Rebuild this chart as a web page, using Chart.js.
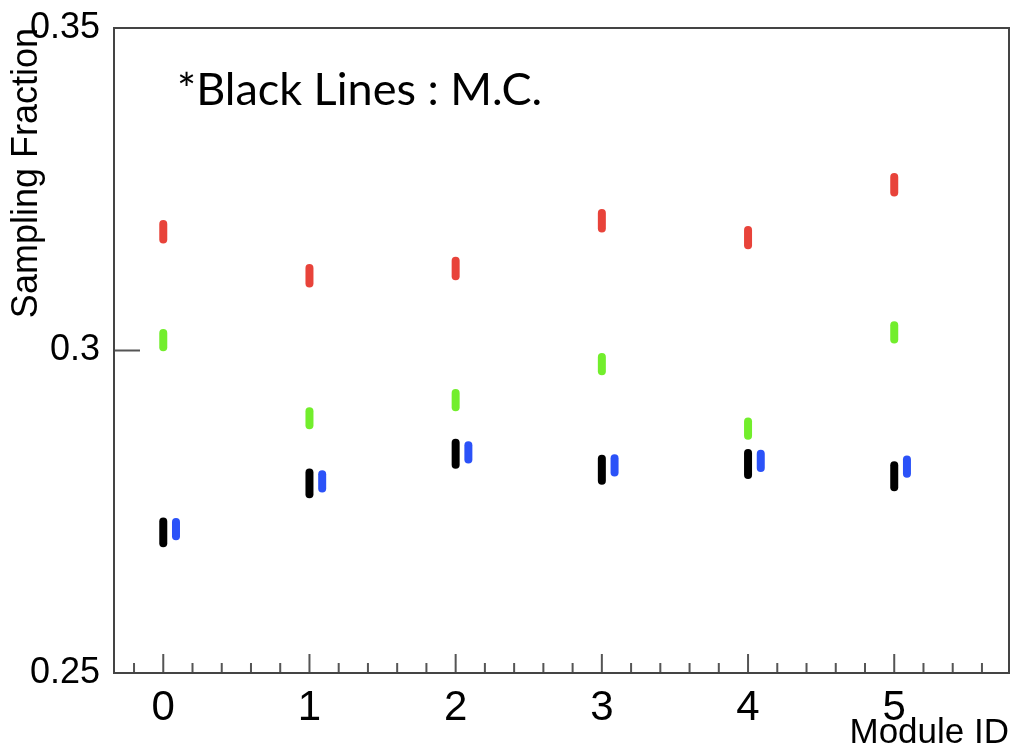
<!DOCTYPE html>
<html>
<head>
<meta charset="utf-8">
<title>Sampling Fraction vs Module ID</title>
<script src="https://cdn.jsdelivr.net/npm/chart.js@4.4.1/dist/chart.umd.min.js"></script>
<style>
  html, body { margin: 0; padding: 0; background: #fff; }
  #wrap { position: relative; width: 1013px; height: 747px; }
</style>
</head>
<body>
<div id="wrap"><canvas id="sfCanvas"></canvas></div>
<script>
// sampling fraction per calorimeter module
const moduleIds = [0, 1, 2, 3, 4, 5]
const redValues = [0.3184, 0.3116, 0.3127, 0.3201, 0.3175, 0.3257]
const greenValues = [0.3016, 0.2895, 0.2923, 0.2979, 0.2879, 0.3028]
const blackValues = [0.2718, 0.2794, 0.2840, 0.2815, 0.2824, 0.2805] // M.C.
const blueValues = [0.2723, 0.2797, 0.2842, 0.2822, 0.2829, 0.2820]

// half-length of the error bars
const redErrors = [0.0012, 0.0012, 0.0012, 0.0012, 0.0012, 0.0012]
const greenErrors = [0.0011, 0.0011, 0.0011, 0.0011, 0.0011, 0.0011]
const blackErrors = [0.0017, 0.0017, 0.0017, 0.0017, 0.0017, 0.0017]
const blueErrors = [0.0011, 0.0011, 0.0011, 0.0011, 0.0011, 0.0011]

const yTicks = [0.25, 0.3, 0.35]
const note = `*Black Lines : M.C.`

const FONT = `'Liberation Sans', Arial, Helvetica, sans-serif`
const BLUE_SHIFT = 0.087 // blue points are drawn slightly right of the module

const series = (values, errors, color, shift = 0) => ({
  data: moduleIds.map((m, i) => ({ x: m + shift, y: values[i] })),
  errors,
  borderColor: color,
  backgroundColor: color,
  pointRadius: 0,
  showLine: false,
})

// vertical error bars, ROOT style
const errorBars = {
  id: `errorBars`,
  afterDatasetsDraw(chart) {
    const { ctx, scales } = chart
    chart.data.datasets.forEach((ds, i) => {
      const meta = chart.getDatasetMeta(i)
      ctx.save()
      ctx.strokeStyle = ds.borderColor
      ctx.lineWidth = 8
      ctx.lineCap = `round`
      meta.data.forEach((pt, j) => {
        const v = ds.data[j].y
        const e = ds.errors[j]
        ctx.beginPath()
        ctx.moveTo(pt.x, scales.y.getPixelForValue(v - e))
        ctx.lineTo(pt.x, scales.y.getPixelForValue(v + e))
        ctx.stroke()
      })
      ctx.restore()
    })
  },
}

// frame box, inward tick marks and the note in the corner
const frame = {
  id: `frame`,
  afterDraw(chart) {
    const { ctx, chartArea: a, scales } = chart
    ctx.save()
    ctx.strokeStyle = `#555`
    ctx.lineWidth = 2
    ctx.beginPath()
    for (let t = -0.2; t < scales.x.max; t += 0.2) {
      const v = Math.round(t * 10) / 10
      if (v < scales.x.min) continue
      const px = scales.x.getPixelForValue(v)
      const len = Number.isInteger(v) ? 19 : 10
      ctx.moveTo(px, a.bottom)
      ctx.lineTo(px, a.bottom - len)
    }
    yTicks.forEach((v) => {
      const py = scales.y.getPixelForValue(v)
      ctx.moveTo(a.left, py)
      ctx.lineTo(a.left + 26, py)
    })
    ctx.stroke()

    ctx.strokeStyle = `#444`
    ctx.strokeRect(a.left, a.top, a.right - a.left, a.bottom - a.top)

    ctx.fillStyle = `#000`
    ctx.font = `45px Lato, 'Open Sans', sans-serif`
    ctx.textAlign = `left`
    ctx.textBaseline = `alphabetic`
    ctx.fillText(note, 177, 105)
    ctx.restore()
  },
}

new Chart(document.querySelector(`#sfCanvas`), {
  type: `scatter`,
  data: {
    datasets: [
      series(redValues, redErrors, `#e8433a`),
      series(greenValues, greenErrors, `#72ee2c`),
      series(blackValues, blackErrors, `#000000`),
      series(blueValues, blueErrors, `#2b52f8`, BLUE_SHIFT),
    ],
  },
  options: {
    responsive: true,
    maintainAspectRatio: false,
    animation: false,
    layout: { padding: { top: 28, right: 4, left: 0, bottom: 0 } },
    plugins: {
      legend: { display: false },
      tooltip: { enabled: false },
    },
    scales: {
      x: {
        type: `linear`,
        min: -0.337,
        max: 5.785,
        afterFit(scale) {
          scale.height = 74
        },
        grid: { display: false },
        border: { display: false },
        ticks: {
          stepSize: 1,
          includeBounds: false,
          padding: 2,
          color: `#000`,
          font: { family: FONT, size: 42 },
          callback: (v) => String(v),
        },
        title: {
          display: true,
          text: `Module ID`,
          align: `end`,
          color: `#000`,
          padding: 0,
          font: { family: FONT, size: 35, lineHeight: 0.8 },
        },
      },
      y: {
        min: 0.25,
        max: 0.35,
        afterFit(scale) {
          scale.width = 114
        },
        afterBuildTicks(scale) {
          scale.ticks = yTicks.map((value) => ({ value }))
        },
        grid: { display: false },
        border: { display: false },
        ticks: {
          padding: 6,
          color: `#000`,
          font: { family: FONT, size: 36 },
          callback: (v) => String(+v.toFixed(2)),
        },
        title: {
          display: true,
          text: `Sampling Fraction`,
          align: `end`,
          color: `#000`,
          padding: { top: 5, bottom: 0 },
          font: { family: FONT, size: 36 },
        },
      },
    },
  },
  plugins: [errorBars, frame],
})
</script>
</body>
</html>
